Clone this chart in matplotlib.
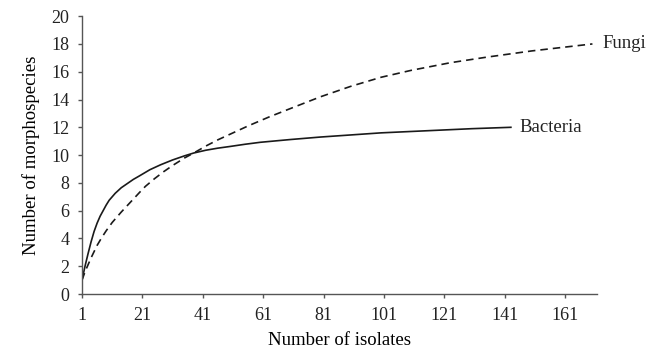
"""Species accumulation curves: bacteria vs fungi morphospecies."""
import matplotlib
matplotlib.use("Agg")
import matplotlib.pyplot as plt

plt.rcParams['font.family'] = ['Liberation Serif', 'DejaVu Serif']

# Values
bact_x = [1, 2, 3, 4, 5, 6, 7, 8, 9, 10, 11, 12, 14, 16, 18, 20, 23.5, 27, 31,
          35, 38, 42, 46, 50, 55, 60, 70, 80, 90, 100, 110, 120, 130, 143]
bact_y = [1.0, 2.0, 2.9, 3.75, 4.5, 5.1, 5.6, 6.0, 6.4, 6.75, 7.0, 7.25,
          7.65, 7.95, 8.25, 8.5, 8.95, 9.3, 9.65, 9.95, 10.15, 10.35, 10.5,
          10.62, 10.78, 10.92, 11.12, 11.3, 11.45, 11.6, 11.7, 11.8, 11.9, 12.0]

fungi_x = [1, 2, 3, 4, 5, 6, 7.5, 9, 11, 14, 17, 20, 22, 25, 28, 31, 35, 38,
           42, 46, 50, 56, 63, 70, 80, 90, 100, 110, 123, 135, 150, 160, 170]
fungi_y = [1.0, 1.6, 2.1, 2.6, 3.05, 3.5, 4.05, 4.55, 5.15, 5.9, 6.6, 7.3,
           7.75, 8.3, 8.8, 9.25, 9.8, 10.15, 10.65, 11.1, 11.5, 12.1, 12.75,
           13.35, 14.2, 14.95, 15.6, 16.1, 16.65, 17.05, 17.5, 17.75, 18.0]

xticks = [1, 21, 41, 61, 81, 101, 121, 141, 161]
yticks = list(range(0, 21, 2))

fig = plt.figure(figsize=(6.65, 3.59), dpi=100)
ax = fig.add_axes([0.1233, 0.181, 0.7744, 0.774])

ax.plot(bact_x, bact_y, color='#1a1a1a', lw=1.2)
ax.plot(fungi_x, fungi_y, color='#1a1a1a', lw=1.2, dashes=(4.5, 3))

ax.annotate('Bacteria', (bact_x[-1], bact_y[-1]), xytext=(6, 0),
            textcoords='offset points', va='center', ha='left', fontsize=13.5,
            color='#222222')
ax.annotate('Fungi', (fungi_x[-1], fungi_y[-1]), xytext=(7, 0),
            textcoords='offset points', va='center', ha='left', fontsize=13.5,
            color='#222222')

ax.set_xlim(1, 171.5)
ax.set_ylim(0, 20)
ax.set_xticks(xticks)
ax.set_yticks(yticks)
ax.set_xlabel('Number of isolates', fontsize=13.5, labelpad=6)
ax.set_ylabel('Number of morphospecies', fontsize=13.5, labelpad=8)

for side in ('top', 'right'):
    ax.spines[side].set_visible(False)
for side in ('left', 'bottom'):
    ax.spines[side].set_color('#555555')
    ax.spines[side].set_linewidth(1.0)
ax.tick_params(axis='both', colors='#555555', length=3, width=1.0,
               labelsize=13, labelcolor='#222222')
ax.tick_params(axis='x', pad=6)
ax.tick_params(axis='y', pad=6)

fig.savefig('out.png', dpi=100)
